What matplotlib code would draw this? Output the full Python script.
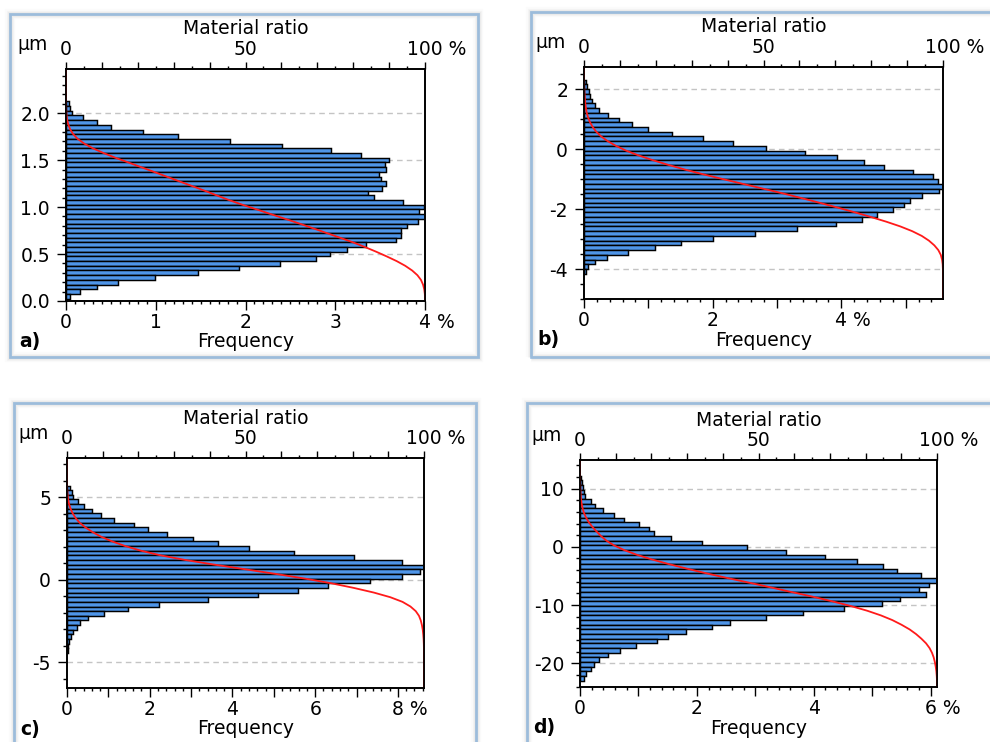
import numpy as np
import matplotlib.pyplot as plt
from matplotlib.patches import Rectangle
from matplotlib.ticker import MultipleLocator, FormatStrFormatter

plt.rcParams['font.family'] = ['DejaVu Sans']
plt.rcParams['font.size'] = 13.5
plt.rcParams['axes.unicode_minus'] = False

# frequency (%) per height class, listed from the highest class down
a_freq = [0.03, 0.05, 0.07, 0.19, 0.34, 0.50, 0.86, 1.25, 1.83, 2.41,
          2.95, 3.29, 3.60, 3.55, 3.57, 3.49, 3.51, 3.57, 3.52, 3.37,
          3.43, 3.76, 3.99, 3.93, 4.00, 3.92, 3.80, 3.73, 3.73, 3.68,
          3.34, 3.13, 2.94, 2.78, 2.38, 1.93, 1.47, 0.99, 0.58, 0.34,
          0.16, 0.05]
a_class = (2.10, 0.05)      # centre of top class, class width (µm)

b_freq = [0.03, 0.05, 0.07, 0.09, 0.12, 0.17, 0.23, 0.38, 0.54, 0.74,
          0.99, 1.37, 1.85, 2.31, 2.83, 3.43, 3.94, 4.35, 4.67, 5.11,
          5.43, 5.50, 5.58, 5.52, 5.26, 5.06, 4.97, 4.80, 4.55, 4.32,
          3.92, 3.31, 2.66, 2.00, 1.51, 1.11, 0.68, 0.36, 0.17, 0.06,
          0.03]
b_class = (2.24, 0.158)

c_freq = [0.07, 0.11, 0.14, 0.26, 0.42, 0.60, 0.81, 1.13, 1.61, 1.97,
          2.41, 3.04, 3.66, 4.39, 5.49, 6.93, 8.09, 8.63, 8.54, 8.11,
          7.33, 6.30, 5.59, 4.61, 3.41, 2.22, 1.48, 0.90, 0.50, 0.32,
          0.23, 0.14, 0.10, 0.06, 0.03, 0.02]
c_class = (5.56, 0.282)

d_freq = [0.02, 0.04, 0.05, 0.07, 0.09, 0.18, 0.26, 0.39, 0.58, 0.76,
          1.01, 1.18, 1.26, 1.56, 2.09, 2.85, 3.52, 4.19, 4.74, 5.18,
          5.42, 5.83, 6.11, 5.98, 5.81, 5.92, 5.47, 5.17, 4.52, 3.82,
          3.18, 2.57, 2.26, 1.81, 1.50, 1.31, 0.96, 0.68, 0.48, 0.33,
          0.24, 0.18, 0.11, 0.07]
d_class = (11.83, 0.80)

ratio_ticks = list(range(0, 101, 10))
ratio_labels = ['0', '', '', '', '', '50', '', '', '', '', '    100 %']

W, H = 990, 742
fig = plt.figure(figsize=(W / 100, H / 100), dpi=100)


def px(l, t, r, b):
    return [l / W, 1 - b / H, (r - l) / W, (b - t) / H]


def frame(l, t, r, b):
    # soft grey shadow, then the light blue border
    for k, a in [(5, 0.03), (3.5, 0.05), (2.5, 0.07)]:
        fig.patches.append(Rectangle((l / W, 1 - b / H), (r - l) / W, (b - t) / H,
                                     transform=fig.transFigure, fill=False,
                                     edgecolor='gray', lw=k * 1.5, alpha=a))
    fig.patches.append(Rectangle((l / W, 1 - b / H), (r - l) / W, (b - t) / H,
                                 transform=fig.transFigure, fill=True, facecolor='white',
                                 edgecolor='#a3c8ec', lw=2, zorder=-1))


def panel(box, freq, cls, ylim, ymaj, ymin, yfmt, xticks, xlabels, xminor, letter):
    l, t, r, b = box
    ax = fig.add_axes(px(l, t, r, b))
    top, w = cls
    h = top - w * np.arange(len(freq))
    ax.barh(h, freq, height=w, color='#4f95e8', edgecolor='black', linewidth=1.05, zorder=2)
    ax.set_xlim(0, max(freq))
    ax.set_ylim(*ylim)
    ax.set_axisbelow(True)
    ax.yaxis.grid(True, which='major', color='#c4c4c4', ls=(0, (4, 3)), lw=1)

    # material ratio (Abbott) curve from the cumulative histogram
    cum = np.concatenate([[0], np.cumsum(freq)]) / np.sum(freq) * 100
    edges = np.concatenate([[h[0] + w / 2], h - w / 2])
    ax2 = ax.twiny()
    ax2.plot(np.concatenate([[0], cum, [100]]),
             np.concatenate([[ylim[1]], edges, [ylim[0]]]),
             color='#ff1a1a', lw=1.3)
    ax2.set_xlim(0, 100)
    ax2.set_xticks(ratio_ticks)
    ax2.set_xticklabels(ratio_labels)
    ax2.xaxis.set_minor_locator(MultipleLocator(5))
    ax2.tick_params(axis='x', which='major', length=5, width=1, pad=2)
    ax2.tick_params(axis='x', which='minor', length=2.5, width=1)

    ax.xaxis.tick_bottom()
    ax.set_xticks(xticks)
    ax.set_xticklabels(xlabels)
    ax.xaxis.set_minor_locator(MultipleLocator(xminor))
    ax.yaxis.set_major_locator(MultipleLocator(ymaj))
    ax.yaxis.set_minor_locator(MultipleLocator(ymin))
    ax.yaxis.set_major_formatter(FormatStrFormatter(yfmt))
    ax.tick_params(axis='x', which='major', length=6.5, width=1, pad=2)
    ax.tick_params(axis='x', which='minor', length=2.5, width=1)
    ax.tick_params(axis='y', which='major', length=6.5, width=1, pad=5, right=False)
    ax.tick_params(axis='y', which='minor', length=3, width=1, right=False)
    for a in (ax, ax2):
        for s in a.spines.values():
            s.set_linewidth(1.2)

    cx = (l + r) / 2
    fig.text(cx / W, 1 - (t - 40) / H, 'Material ratio', ha='center', va='center')
    fig.text((l - 33) / W, 1 - (t - 19) / H, 'µm', ha='center', va='baseline')
    fig.text(cx / W, 1 - (b + 41) / H, 'Frequency', ha='center', va='center')
    fig.text((l - 47) / W, 1 - (b + 41) / H, letter, ha='left', va='center', fontweight='bold')


frame(10, 14, 478, 357)
frame(531, 12, 1000, 357)
frame(14, 403, 476, 750)
frame(527, 403, 1000, 750)

panel((66, 69, 425, 301), a_freq, a_class, (0, 2.47), 0.5, 0.1, '%.1f',
      [0, 1, 2, 3, 4], ['0', '1', '2', '3', '    4 %'], 0.1, 'a)')
panel((584, 67, 943, 299), b_freq, b_class, (-5.0, 2.74), 2, 0.5, '%d',
      [0, 1, 2, 3, 4, 5], ['0', '', '2', '', '    4 %', ''], 0.2, 'b)')
panel((67, 458, 424, 688), c_freq, c_class, (-6.57, 7.37), 5, 1, '%d',
      list(range(9)), ['0', '', '2', '', '4', '', '6', '', '    8 %'], 0.2, 'c)')
panel((580, 460, 937, 687), d_freq, d_class, (-24.06, 14.9), 10, 2, '%d',
      list(range(7)), ['0', '', '2', '', '4', '', '    6 %'], 0.2, 'd)')

fig.savefig('out.png', dpi=100)
